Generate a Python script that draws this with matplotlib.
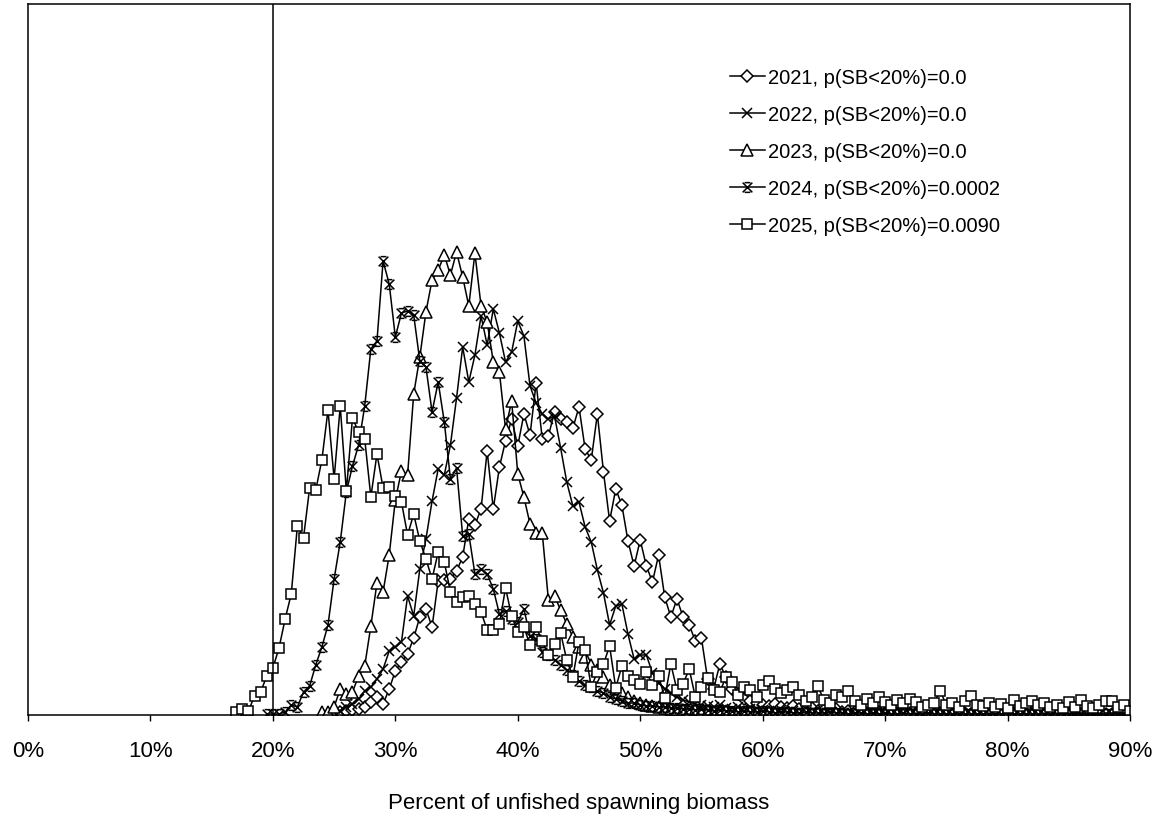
import numpy as np
import matplotlib.pyplot as plt
from matplotlib.path import Path
from matplotlib.ticker import PercentFormatter

plt.rcParams['font.family'] = ['Liberation Sans', 'DejaVu Sans']

# bins of 0.5 % of unfished spawning biomass, relative frequency (arbitrary units)
bin_width = 0.005

start_2021 = 0.25
freq_2021 = [2, 3, 4, 5, 6, 8, 13, 18, 11, 26,
             44, 53, 61, 77, 98, 106, 88, 134, 135, 136,
             144, 158, 196, 190, 206, 264, 206, 248, 274, 296,
             269, 301, 280, 332, 276, 279, 303, 296, 293, 287,
             308, 266, 255, 301, 243, 194, 226, 210, 174, 149,
             175, 149, 133, 160, 118, 98, 116, 98, 90, 74,
             77, 36, 26, 51, 38, 26, 21, 16, 14, 12,
             10, 9, 11, 8, 7, 9, 6, 5, 7, 4,
             5, 4, 6, 3, 4, 3, 5, 2, 3, 3,
             2, 4, 2, 3, 2, 2, 3, 1, 2, 2,
             1, 2, 1, 2, 1, 1, 2, 1, 1, 1,
             1, 2, 1, 1, 1, 1, 1, 1, 1, 1,
             1, 1, 1, 1, 1, 1, 1, 1, 1, 1, 1]

start_2022 = 0.255
freq_2022 = [4, 8, 11, 16, 24, 28, 36, 46, 64, 68,
             73, 119, 99, 146, 176, 214, 246, 240, 270, 317,
             368, 333, 360, 399, 370, 406, 382, 353, 363, 394,
             379, 329, 312, 301, 296, 299, 267, 233, 209, 213,
             188, 173, 145, 122, 90, 109, 111, 81, 56, 60,
             60, 42, 32, 26, 22, 18, 15, 13, 11, 10,
             9, 8, 10, 7, 6, 8, 5, 6, 4, 5,
             4, 3, 5, 3, 4, 2, 3, 3, 2, 2,
             3, 2, 1, 2, 2, 1, 2, 1, 1, 2,
             1, 1, 2, 1, 1, 1, 1, 1, 1, 1,
             1, 1, 1, 1, 1, 1, 1, 1, 1, 1,
             1, 1, 1, 1, 1, 1, 1, 1, 1, 1,
             1, 1, 1, 1, 1, 1, 1, 1, 1, 1]

start_2023 = 0.24
freq_2023 = [3, 3, 8, 26, 21, 23, 39, 49, 89, 132,
             123, 160, 215, 244, 240, 321, 358, 403, 435, 445,
             460, 440, 463, 438, 409, 462, 409, 393, 353, 343,
             286, 314, 241, 218, 191, 182, 182, 115, 119, 105,
             91, 78, 68, 58, 50, 45, 38, 30, 26, 22,
             18, 14, 12, 10, 9, 8, 7, 6, 5, 5,
             4, 5, 3, 4, 3, 3, 4, 2, 3, 2,
             3, 2, 2, 3, 2, 1, 2, 2, 1, 2,
             1, 2, 1, 1, 2, 1, 1, 1, 1, 1,
             1, 1, 1, 1, 1, 1, 1, 1, 1, 1,
             1, 1, 1, 1, 1, 1, 1, 1, 1, 1,
             1, 1, 1, 1, 1, 1, 1, 1, 1, 1,
             1, 1, 1]

start_2024 = 0.195
freq_2024 = [1, 1, 1, 3, 10, 8, 23, 29, 50, 68,
             90, 136, 173, 223, 249, 270, 309, 366, 374, 454,
             431, 378, 402, 404, 400, 354, 348, 303, 333, 293,
             236, 247, 179, 181, 141, 146, 141, 126, 101, 104,
             96, 93, 106, 79, 76, 63, 60, 55, 50, 45,
             40, 34, 30, 28, 24, 22, 18, 16, 14, 12,
             12, 10, 9, 9, 8, 8, 7, 7, 6, 6,
             5, 6, 5, 4, 5, 4, 4, 3, 4, 3,
             3, 4, 3, 2, 3, 3, 2, 2, 3, 2,
             2, 2, 3, 2, 2, 1, 2, 2, 1, 2,
             1, 2, 1, 1, 2, 1, 1, 1, 2, 1,
             1, 1, 1, 1, 1, 1, 1, 1, 1, 1,
             1, 1, 1, 1, 1, 1, 1, 1, 1, 1,
             1, 1, 1, 1, 1, 1, 1, 1, 1, 1,
             1, 1]

start_2025 = 0.17
freq_2025 = [3, 6, 4, 19, 23, 39, 47, 67, 96, 121,
             189, 177, 227, 225, 255, 305, 236, 309, 224, 297,
             283, 276, 218, 261, 227, 228, 219, 213, 180, 201,
             174, 156, 136, 163, 153, 123, 113, 118, 119, 111,
             103, 85, 85, 91, 127, 99, 83, 88, 70, 88,
             74, 60, 71, 82, 55, 38, 73, 65, 28, 43,
             51, 69, 27, 49, 39, 35, 31, 43, 30, 39,
             17, 51, 25, 31, 46, 18, 28, 37, 25, 23,
             38, 33, 20, 28, 25, 18, 30, 34, 26, 22,
             25, 28, 20, 14, 18, 29, 15, 12, 20, 18,
             24, 14, 10, 16, 12, 18, 13, 10, 15, 12,
             16, 13, 8, 10, 12, 24, 10, 12, 8, 14,
             19, 10, 9, 12, 8, 11, 7, 15, 9, 12,
             14, 10, 12, 8, 10, 7, 13, 8, 15, 9,
             7, 10, 14, 14, 8, 10, 4]

labels = ["2021, p(SB<20%)=0.0",
          "2022, p(SB<20%)=0.0",
          "2023, p(SB<20%)=0.0",
          "2024, p(SB<20%)=0.0002",
          "2025, p(SB<20%)=0.0090"]

# X with bars on top and bottom (Excel-like star marker)
star = Path([(-1, -1), (1, 1), (-1, 1), (1, -1),
             (-0.6, 1), (0.6, 1), (-0.6, -1), (0.6, -1)],
            [Path.MOVETO, Path.LINETO] * 4)

series = [
    (start_2021, freq_2021, dict(marker="D", markersize=5.8)),
    (start_2022, freq_2022, dict(marker="x", markersize=7)),
    (start_2023, freq_2023, dict(marker="^", markersize=8)),
    (start_2024, freq_2024, dict(marker=star, markersize=7)),
    (start_2025, freq_2025, dict(marker="s", markersize=7.8)),
]

fig = plt.figure(figsize=(11.64, 8.2), dpi=100)
ax = fig.add_axes([28 / 1164, 104 / 820, 1102 / 1164, 711 / 820])

for (start, freq, style), label in zip(series, labels):
    x = start + bin_width * np.arange(len(freq))
    ax.plot(x, freq, color="black", linewidth=1.1, markerfacecolor="white",
            markeredgecolor="black", markeredgewidth=1.1, label=label, **style)

ax.axvline(0.2, color="black", linewidth=1.1)

ax.set_xlim(0, 0.9)
ax.set_ylim(0, 711)
ax.set_yticks([])
ax.set_xticks(np.arange(0, 0.91, 0.1))
ax.xaxis.set_major_formatter(PercentFormatter(1.0, decimals=0))
ax.tick_params(axis="x", direction="out", length=4, width=1, pad=14,
               labelsize=16, colors="black")
for spine in ax.spines.values():
    spine.set_linewidth(1.1)

ax.set_xlabel("Percent of unfished spawning biomass", fontsize=16, labelpad=22)

ax.legend(loc="upper left", bbox_to_anchor=(0.6295, 0.921), frameon=False,
          fontsize=14.5, handlelength=1.75, handletextpad=0.15,
          labelspacing=0.89, borderaxespad=0)

fig.savefig("out.png", dpi=100)
